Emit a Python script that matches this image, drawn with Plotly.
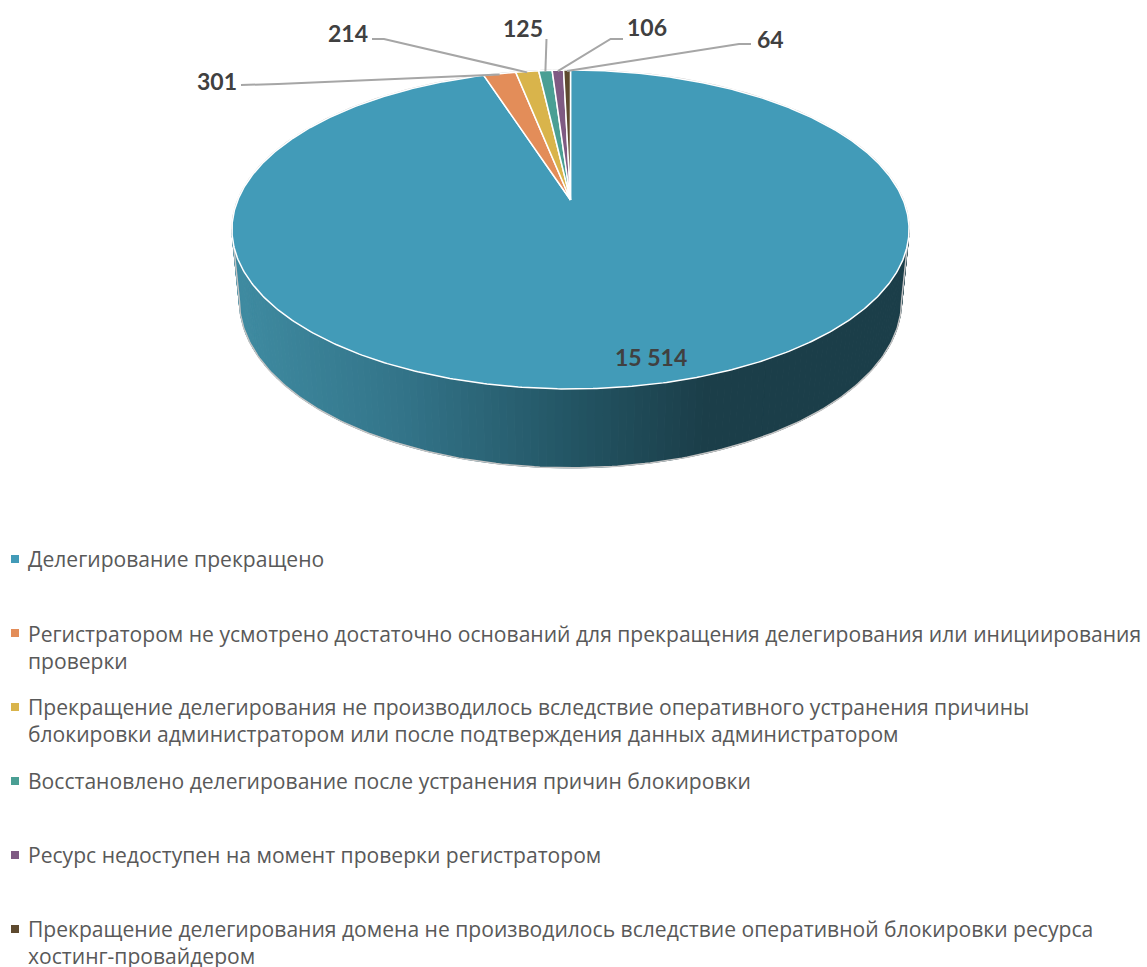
import numpy as np
import plotly.graph_objects as go

categories = [
    "Делегирование прекращено",
    "Регистратором не усмотрено достаточно оснований для прекращения делегирования или инициирования<br>проверки",
    "Прекращение делегирования не производилось вследствие оперативного устранения причины<br>блокировки администратором или после подтверждения данных администратором",
    "Восстановлено делегирование после устранения причин блокировки",
    "Ресурс недоступен на момент проверки регистратором",
    "Прекращение делегирования домена не производилось вследствие оперативной блокировки ресурса<br>хостинг-провайдером",
]
values = [15514, 301, 214, 125, 106, 64]
value_labels = ["15 514", "301", "214", "125", "106", "64"]

colors = ["#429BB8", "#E38D59", "#D9B44B", "#4A9F94", "#7F5A83", "#5E4A2F"]

# Perspective projection of the pie disc
CX, Y_TOP, A, B, K = 570.5, 200.0, 332.7, 154.0, 0.185
Y_BOT, SX_BOT, SY_BOT = 270.0, 0.978, 1.047
def project(theta_deg, y0=Y_TOP, sx=1.0, sy=1.0):
    t = np.radians(theta_deg)
    w = 1 + K * np.cos(t)
    return CX + sx * A * np.sin(t) / w, y0 - sy * B * np.cos(t) / w

fractions = np.array(values) / sum(values)
edges = np.concatenate([[0], np.cumsum(fractions) * 360])

fig = go.Figure()

# side of the pie, shaded left to right
grad_x = [240, 400, 570, 705, 905]
grad_rgb = np.array([[62, 138, 160], [51, 116, 137], [35, 85, 100], [27, 62, 73], [27, 62, 73]])
th_r = np.degrees(np.arccos(-K))
th_l = 360 - th_r
steps = np.linspace(th_r, th_l, 141)
for a, b in zip(steps[:-1], steps[1:]):
    arc = np.linspace(a, b, 4)
    xt, yt = project(arc)
    xb, yb = project(arc[::-1], Y_BOT, SX_BOT, SY_BOT)
    xm = float(np.mean(xt))
    c = [int(round(np.interp(xm, grad_x, grad_rgb[:, i]))) for i in range(3)]
    col = f"rgb({c[0]},{c[1]},{c[2]})"
    fig.add_trace(go.Scatter(x=np.r_[xt, xb, xt[0]], y=np.r_[yt, yb, yt[0]], mode="lines", fill="toself",
                             fillcolor=col, line=dict(color=col, width=1), hoverinfo="skip", showlegend=False))

# thin grey silhouette
ax, ay = project(np.linspace(th_r, th_l, 200), Y_BOT, SX_BOT, SY_BOT)
bx, by = project(np.linspace(th_l, th_r + 360, 300))
fig.add_trace(go.Scatter(x=np.r_[ax, bx, ax[0]], y=np.r_[ay, by, ay[0]], mode="lines",
                         line=dict(color="#C4C4C4", width=1.5), hoverinfo="skip", showlegend=False))

# top face slices
for i, v in enumerate(values):
    n = max(8, int((edges[i + 1] - edges[i]) * 2))
    x, y = project(np.linspace(edges[i], edges[i + 1], n))
    fig.add_trace(go.Scatter(x=np.r_[CX, x, CX], y=np.r_[Y_TOP, y, Y_TOP], mode="lines", fill="toself",
                             fillcolor=colors[i], line=dict(color="white", width=1.5),
                             text=f"{value_labels[i]}", hoverinfo="text", showlegend=False))

# leader lines: elbows and label placement
leaders = {
    1: [(241, 85), (278, 84)],
    2: [(372, 39), (384, 39)],
    3: [(546.5, 39)],
    4: [(623, 39), (610.6, 39)],
    5: [(751, 44), (739, 44)],
}
for i, pts in leaders.items():
    ex, ey = project((edges[i] + edges[i + 1]) / 2)
    xs = [p[0] for p in pts] + [float(ex)]
    ys = [p[1] for p in pts] + [float(ey) + 1]
    fig.add_trace(go.Scatter(x=xs, y=ys, mode="lines", line=dict(color="#A6A6A6", width=2),
                             hoverinfo="skip", showlegend=False))

label_pos = [(651, 357), (217, 81), (348, 33), (523, 28), (647, 27), (770, 39)]
for (lx, ly), t in zip(label_pos, value_labels):
    fig.add_annotation(x=lx, y=ly, text=f"<b>{t}</b>", showarrow=False, xanchor="center", yanchor="middle",
                       font=dict(family="Lato", size=23, color="#404040"))

# legend
legend_y = [558, 646.5, 720, 780, 854, 942]
marker_y = [559, 633, 707, 781, 855, 929]
fig.add_trace(go.Scatter(x=[15] * 6, y=marker_y, mode="markers",
                         marker=dict(symbol="square", size=8, color=colors), hoverinfo="skip", showlegend=False))
for c, y in zip(categories, legend_y):
    fig.add_annotation(x=26, y=y, text=c, showarrow=False, xanchor="left", yanchor="middle", align="left",
                       font=dict(family="Open Sans", size=21.08, color="#595959"))

fig.update_layout(
    width=1147, height=967, margin=dict(l=0, r=0, t=0, b=0),
    paper_bgcolor="white", plot_bgcolor="white",
    xaxis=dict(range=[0, 1147], visible=False, fixedrange=True),
    yaxis=dict(range=[967, 0], visible=False, fixedrange=True),
)
fig.write_html("out.html", post_script="document.body.style.margin='0';document.documentElement.style.overflow='hidden';",
               config={"displayModeBar": False})
